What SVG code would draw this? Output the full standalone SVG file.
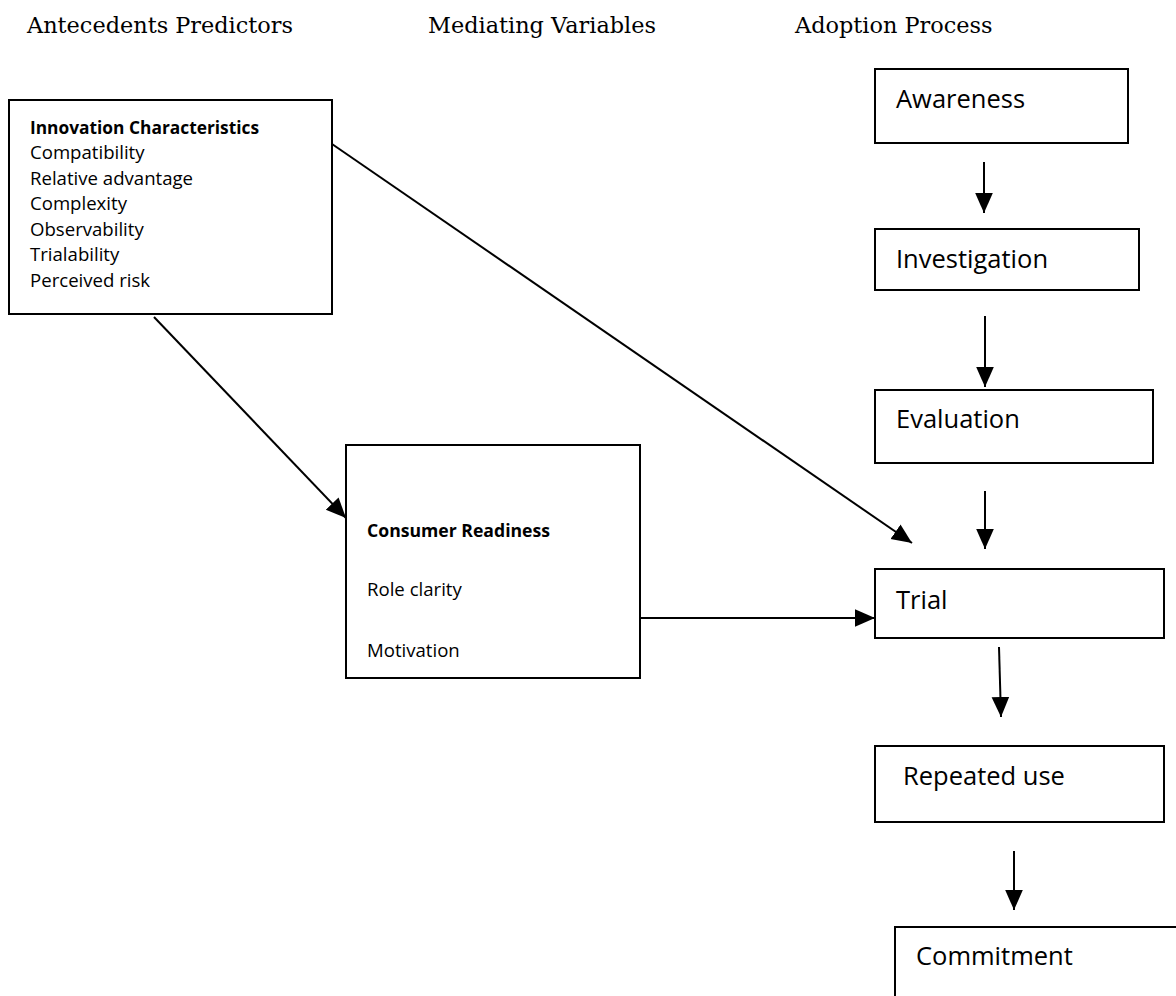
<svg xmlns="http://www.w3.org/2000/svg" width="1176" height="996" viewBox="0 0 1176 996">
<defs>
<marker id="ah" markerUnits="userSpaceOnUse" markerWidth="20" markerHeight="20" viewBox="0 0 17 15" refX="17" refY="7.5" orient="auto">
<path d="M0,0 L17,7.5 L0,15 Z" fill="#000"/>
</marker>
</defs>
<style>
.hd{font-family:"DejaVu Serif","Liberation Serif",serif;font-size:22.4px;fill:#000}
.box{fill:#fff;stroke:#000;stroke-width:2}
.sm{font-family:"Open Sans","Liberation Sans",sans-serif;font-size:18.6px;fill:#000}
.b{font-weight:bold}
.lg{font-family:"Open Sans","Liberation Sans",sans-serif;font-size:25.5px;fill:#000}
.con line{stroke:#000;stroke-width:2;marker-end:url(#ah)}
</style>
<rect width="1176" height="996" fill="#fff"/>
<g id="headers">
<text class="hd" x="27" y="33">Antecedents Predictors</text>
<text class="hd" x="428" y="33">Mediating Variables</text>
<text class="hd" x="795" y="33">Adoption Process</text>
</g>
<g id="innovation">
<rect class="box" x="9" y="100" width="323" height="214"/>
<text class="sm b" x="30" y="134" textLength="229" lengthAdjust="spacingAndGlyphs">Innovation Characteristics</text>
<text class="sm" x="30" y="159">Compatibility</text>
<text class="sm" x="30" y="184.5">Relative advantage</text>
<text class="sm" x="30" y="210">Complexity</text>
<text class="sm" x="30" y="235.5">Observability</text>
<text class="sm" x="30" y="261">Trialability</text>
<text class="sm" x="30" y="286.5">Perceived risk</text>
</g>
<g id="readiness">
<rect class="box" x="346" y="445" width="294" height="233"/>
<text class="sm b" x="367" y="537" textLength="183" lengthAdjust="spacingAndGlyphs">Consumer Readiness</text>
<text class="sm" x="367" y="596">Role clarity</text>
<text class="sm" x="367" y="657">Motivation</text>
</g>
<g id="awareness">
<rect class="box" x="875" y="69" width="253" height="74"/>
<text class="lg" x="896" y="108">Awareness</text>
</g>
<g id="investigation">
<rect class="box" x="875" y="229" width="264" height="61"/>
<text class="lg" x="896" y="268">Investigation</text>
</g>
<g id="evaluation">
<rect class="box" x="875" y="390" width="278" height="73"/>
<text class="lg" x="896" y="428">Evaluation</text>
</g>
<g id="trial">
<rect class="box" x="875" y="569" width="289" height="69"/>
<text class="lg" x="896" y="609">Trial</text>
</g>
<g id="repeated">
<rect class="box" x="875" y="746" width="289" height="76"/>
<text class="lg" x="903" y="785">Repeated use</text>
</g>
<g id="commitment">
<rect class="box" x="895" y="927" width="300" height="71"/>
<text class="lg" x="916" y="965">Commitment</text>
</g>
<g id="connectors" class="con">
<line x1="332" y1="144" x2="912" y2="543"/>
<line x1="154" y1="317" x2="346" y2="518"/>
<line x1="640" y1="618" x2="875" y2="618"/>
<line x1="984" y1="162" x2="984" y2="213"/>
<line x1="985" y1="316" x2="985" y2="387"/>
<line x1="985" y1="491" x2="985" y2="549"/>
<line x1="999" y1="647" x2="1001" y2="717"/>
<line x1="1014" y1="851" x2="1014" y2="910"/>
</g>
</svg>
